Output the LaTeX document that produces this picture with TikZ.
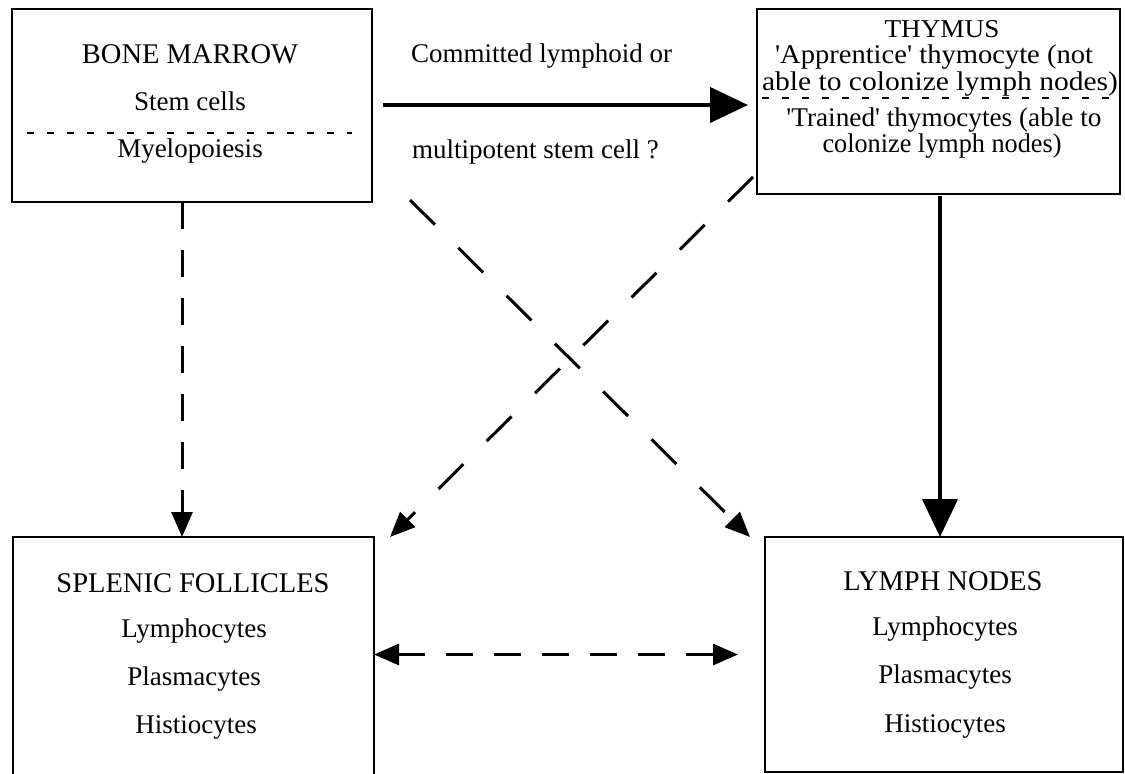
\documentclass[tikz,border=0pt]{standalone}
\usepackage{fontspec}
\setmainfont{Liberation Serif}
\usepackage{graphicx}
\usetikzlibrary{arrows.meta}
\newcommand{\fitw}[2]{\resizebox{#1}{\height}{#2}}
\begin{document}
\begin{tikzpicture}[x=1pt,y=-1pt,
  box/.style={draw,line width=2.2pt,inner sep=0pt,outer sep=0pt,rectangle},
  lbl/.style={inner sep=0pt,anchor=base,font=\fontsize{27}{30}\selectfont},
  hlbl/.style={inner sep=0pt,anchor=base,font=\fontsize{28.5}{30}\selectfont},
  tlbl/.style={inner sep=0pt,anchor=base,font=\fontsize{27}{30}\selectfont},
  solidarrow/.style={line width=4.3pt,-{Triangle[length=38pt,width=35pt]}},
  dasharrow/.style={line width=3pt,dash pattern=on 27pt off 21pt,-{Triangle[length=25pt,width=21pt]}},
  diagarrow/.style={line width=3pt,dash pattern=on 35pt off 33pt,-{Triangle[length=25pt,width=21pt]}},
  sepline/.style={line width=1.3pt,dash pattern=on 7pt off 13pt}]
\useasboundingbox (0,0) rectangle (1125,774);
\fill[white] (0,0) rectangle (1125,774);
% boxes
\node[box,minimum width=360pt,minimum height=193pt] (bm) at (192,105.5) {};
\node[box,minimum width=363pt,minimum height=185pt] (th) at (938.5,101.5) {};
\node[box,minimum width=361pt,minimum height=263pt] (sp) at (193.5,668.5) {};
\node[box,minimum width=358pt,minimum height=235pt] (ln) at (944,654.5) {};
% bone marrow texts
\node[hlbl] (bmt) at (190,63) {BONE MARROW};
\node[lbl] (bm1) at (190,110) {Stem cells};
\node[lbl] (bm2) at (190,157) {Myelopoiesis};
\draw[sepline] ([xshift=15pt,yshift=-27.5pt]bm.west) -- ([xshift=-20pt,yshift=-27.5pt]bm.east);
% thymus texts
\node[tlbl] (tht) at (942,37) {\resizebox{115pt}{17pt}{THYMUS}};
\node[tlbl] (th1) at (934,63.5) {\fitw{318pt}{\textquotesingle Apprentice\textquotesingle\ thymocyte (not}};
\node[tlbl] (th2) at (940,90.5) {\fitw{356pt}{able to colonize lymph nodes)}};
\node[tlbl] (th3) at (944,126) {\fitw{315pt}{\textquotesingle Trained\textquotesingle\ thymocytes (able to}};
\node[tlbl] (th4) at (942,152) {\fitw{239pt}{colonize lymph nodes)}};
% splenic texts
\node[hlbl] (spt) at (193,592) {SPLENIC FOLLICLES};
\node[lbl] (sp1) at (194,637) {Lymphocytes};
\node[lbl] (sp2) at (194,685) {Plasmacytes};
\node[lbl] (sp3) at (196,733) {Histiocytes};
% lymph node texts
\node[hlbl] (lnt) at (943,590) {LYMPH NODES};
\node[lbl] (ln1) at (945,635) {Lymphocytes};
\node[lbl] (ln2) at (945,683) {Plasmacytes};
\node[lbl] (ln3) at (945,732) {Histiocytes};
% arrow labels
\node[lbl,anchor=base west] (c1) at (411,62) {Committed lymphoid or};
\node[lbl,anchor=base west] (c2) at (412,158) {multipotent stem cell ?};
% thymus dashed separator
\draw[sepline] ([xshift=5pt,yshift=3.5pt]th.west) -- ([xshift=-2pt,yshift=3.5pt]th.east);
% connectors
\draw[solidarrow] ([xshift=11pt,yshift=0.5pt]bm.east) -- ([yshift=0.5pt,xshift=-9pt]bm.east -| th.west);
\draw[dasharrow] ([xshift=-10pt]bm.south) -- ([xshift=-10pt]bm.south |- sp.north);
\draw[solidarrow] ([xshift=1.5pt,yshift=-2pt]th.south) -- ([xshift=1.5pt]th.south |- ln.north);
\draw[diagarrow] ([xshift=38pt,yshift=2pt]bm.south east) -- ([xshift=-15pt]ln.north west);
\draw[diagarrow] ([xshift=-4pt,yshift=17pt]th.south west) -- ([xshift=16pt]sp.north east);
\draw[dasharrow,{Triangle[length=25pt,width=21pt]}-{Triangle[length=25pt,width=21pt]}] (ln.west -| sp.east) -- ([xshift=-27pt]ln.west);
\end{tikzpicture}
\end{document}
